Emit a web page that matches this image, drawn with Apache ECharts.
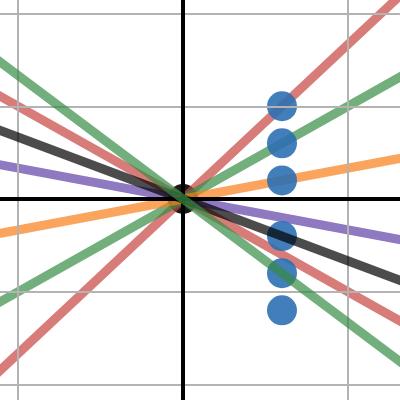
<!DOCTYPE html>
<html>
<head>
<meta charset="utf-8">
<script src="https://cdn.jsdelivr.net/npm/echarts@6/dist/echarts.min.js"></script>
<style>
  html, body { margin: 0; padding: 0; background: #fff; }
  #chart { width: 400px; height: 400px; }
</style>
</head>
<body>
<div id="chart"></div>
<script>
// line endpoints, all pass through the origin
const redUp = [[-1.2, -2.0], [1.35, 2.25]];
const redDown = [[-1.2, 1.2], [1.35, -1.35]];
const greenUp = [[-1.2, -1.2], [1.35, 1.35]];
const greenDown = [[-1.2, 1.6], [1.35, -1.8]];
const blackLine = [[-1.2, 0.8], [1.35, -0.9]];
const purpleLine = [[-1.2, 0.4], [1.35, -0.45]];
const orangeLine = [[-1.2, -0.4], [1.35, 0.45]];

// blue points
const dotX = [0.6, 0.6, 0.6, 0.6, 0.6, 0.6];
const dotY = [1.0, 0.6, 0.2, -0.4, -0.8, -1.2];
const origin = [[0, 0]];

// grid lines
const gridX = [-1, 1];
const gridY = [-2, -1, 1, 2];

const chart = echarts.init(document.getElementById('chart'), null, { renderer: 'canvas' });

const lineSeries = (data, color, z) => ({
  type: 'line',
  data: data,
  showSymbol: false,
  silent: true,
  z: z,
  lineStyle: { color: color, width: 9, opacity: 0.7, cap: 'butt' }
});

const option = {
  animation: false,
  grid: { left: 0, right: 0, top: 0, bottom: 0, containLabel: false },
  xAxis: {
    type: 'value',
    min: -1.1091,
    max: 1.3152,
    axisLine: { show: false },
    axisTick: { show: false },
    axisLabel: { show: false },
    splitLine: { show: false }
  },
  yAxis: {
    type: 'value',
    min: -2.167,
    max: 2.1456,
    axisLine: { show: false },
    axisTick: { show: false },
    axisLabel: { show: false },
    splitLine: { show: false }
  },
  series: [
    {
      type: 'line',
      data: [],
      z: 0,
      markLine: {
        silent: true,
        symbol: 'none',
        label: { show: false },
        animation: false,
        lineStyle: { color: '#b3b3b3', width: 2, type: 'solid' },
        data: gridX.map(v => ({ xAxis: v })).concat(gridY.map(v => ({ yAxis: v })))
      }
    },
    {
      type: 'line',
      data: [],
      z: 1,
      markLine: {
        silent: true,
        symbol: 'none',
        label: { show: false },
        animation: false,
        lineStyle: { color: '#000', width: 4, type: 'solid' },
        data: [{ xAxis: 0 }, { yAxis: 0 }]
      }
    },
    {
      type: 'scatter',
      data: origin,
      symbolSize: 30,
      z: 2,
      itemStyle: { color: '#000', opacity: 0.9 }
    },
    lineSeries(redDown, '#c74440', 3),
    lineSeries(purpleLine, '#6042a6', 3),
    lineSeries(redUp, '#c74440', 3),
    lineSeries(greenUp, '#388c46', 3),
    lineSeries(orangeLine, '#fa7e19', 3),
    {
      type: 'scatter',
      data: dotX.map((x, i) => [x, dotY[i]]),
      symbolSize: 30,
      z: 4,
      itemStyle: { color: '#2d70b3', opacity: 0.9 }
    },
    lineSeries(blackLine, '#000000', 5),
    lineSeries(greenDown, '#388c46', 5)
  ]
};

chart.setOption(option);
</script>
</body>
</html>
